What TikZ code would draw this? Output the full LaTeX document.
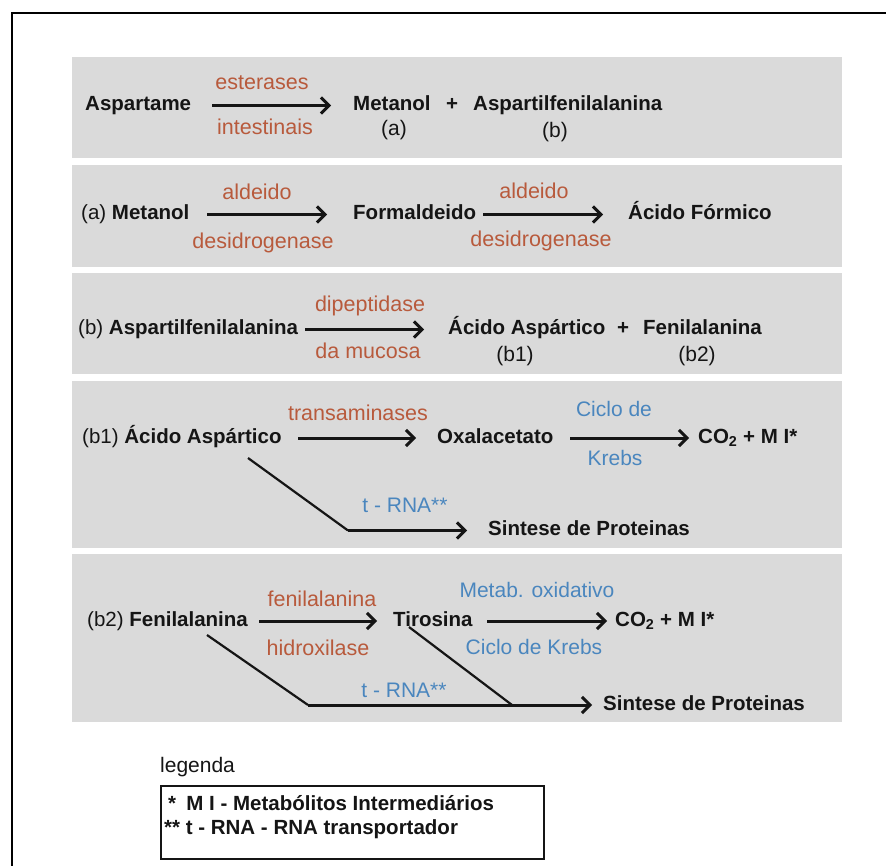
\documentclass[tikz,border=0pt]{standalone}
\usepackage{fontspec}
\setmainfont{Liberation Sans}
\usetikzlibrary{arrows.meta}
\definecolor{bandgray}{HTML}{DADADA}
\definecolor{enzred}{HTML}{B85A3C}
\definecolor{enzblue}{HTML}{4A86BE}
\definecolor{ink}{HTML}{151515}
\begin{document}
\begin{tikzpicture}[x=1pt,y=-1pt,
  bx/.style={font=\fontsize{20.5}{24}\selectfont\bfseries, text=ink, inner sep=0pt, text height=15pt, text depth=5pt, anchor=base west},
  pl/.style={bx, anchor=base},
  lbr/.style={font=\fontsize{21.5}{24}\selectfont, text=enzred, inner sep=0pt, anchor=base},
  lbb/.style={font=\fontsize{21}{24}\selectfont, text=enzblue, inner sep=0pt, anchor=base},
  tag/.style={font=\fontsize{21}{24}\selectfont, text=ink, inner sep=0pt, anchor=base},
  arr/.style={draw=ink, line width=3pt, -{Straight Barb[length=8pt,width=16pt]}},
  diag/.style={draw=ink, line width=2.2pt},
  band/.style={fill=bandgray, draw=none},
  leg/.style={font=\fontsize{20.5}{23}\selectfont\bfseries, text=ink, inner sep=0pt, anchor=base west}]
\useasboundingbox (0,0) rectangle (886,866);
\fill[white] (0,0) rectangle (886,866);
\draw[line width=2pt] (12,866) -- (12,13) -- (886,13);
% bands
\path[band] (72,57) rectangle (842,158);
\path[band] (72,165) rectangle (842,267);
\path[band] (72,273) rectangle (842,374);
\path[band] (72,381) rectangle (842,548);
\path[band] (72,554) rectangle (842,722);
% row 1
\node[bx] (asp) at (85,110.5) {Aspartame};
\node[bx] (met) at (353,110.5) {Metanol};
\node[pl] (p1) at (452,110.5) {+};
\node[bx] (aspf) at (473,110.5) {Aspartilfenilalanina};
\node[tag] (ta) at (394,136) {(a)};
\node[tag] (tb) at (555,138) {(b)};
\draw[arr] ([xshift=127pt]asp.west) -- ([xshift=-22pt]met.west);
\node[lbr] (e1) at (262,90) {esterases};
\node[lbr] (e2) at (265,135) {intestinais};
% row 2
\node[bx] (am) at (81,219.5) {\mdseries (a) \bfseries Metanol};
\node[bx] (form) at (353,219.5) {Formaldeido};
\node[bx] (acf) at (628,219.5) {Ácido Fórmico};
\draw[arr] ([xshift=126pt]am.west) -- ([xshift=-26pt]form.west);
\draw[arr] ([xshift=130pt]form.west) -- ([xshift=-25pt]acf.west);
\node[lbr] (e3) at (257,200) {aldeido};
\node[lbr] (e4) at (263,249) {desidrogenase};
\node[lbr] (e5) at (534,199) {aldeido};
\node[lbr] (e6) at (541,247) {desidrogenase};
% row 3
\node[bx] (basp) at (78,334.5) {\mdseries (b) \bfseries Aspartilfenilalanina};
\node[bx] (aasp) at (448,334.5) {Ácido Aspártico};
\node[pl] (p2) at (623,334.5) {+};
\node[bx] (fen) at (643,334.5) {Fenilalanina};
\node[tag] (tb1) at (515,362) {(b1)};
\node[tag] (tb2) at (697,362) {(b2)};
\draw[arr] ([xshift=227pt]basp.west) -- ([xshift=-24pt]aasp.west);
\node[lbr] (e7) at (370,312) {dipeptidase};
\node[lbr] (e8) at (368,359) {da mucosa};
% row 4
\node[bx] (b1) at (82,443) {\mdseries (b1) \bfseries Ácido Aspártico};
\node[bx] (oxa) at (437,443) {Oxalacetato};
\node[bx] (co2a) at (698,443) {CO\textsubscript{2} + M I*};
\draw[arr] ([xshift=216pt]b1.west) -- ([xshift=-21pt]oxa.west);
\draw[arr] ([xshift=133pt]oxa.west) -- ([xshift=-9pt]co2a.west);
\node[lbr] (e9) at (358,420) {transaminases};
\node[lbb] (k1) at (614,416.5) {Ciclo de};
\node[lbb] (k2) at (615,465.5) {Krebs};
\node[bx] (sp1) at (488,535.5) {Sintese de Proteinas};
\node[lbb] (r1) at (405,512.5) {t - RNA**};
\coordinate (d1s) at (248,458);
\coordinate (d1b) at (348,530.5);
\draw[diag] (d1s) -- (d1b);
\draw[arr] (d1b) -- ([xshift=-21pt]sp1.west);
% row 5
\node[bx] (b2) at (87,626) {\mdseries (b2) \bfseries Fenilalanina};
\node[bx] (tir) at (393,626) {Tirosina};
\node[bx] (co2b) at (615,626) {CO\textsubscript{2} + M I*};
\draw[arr] ([xshift=172pt]b2.west) -- ([xshift=-16pt]tir.west);
\draw[arr] ([xshift=94pt]tir.west) -- ([xshift=-8pt]co2b.west);
\node[lbr] (e10) at (322,606.5) {fenilalanina};
\node[lbr] (e11) at (318,655.5) {hidroxilase};
\node[lbb] (m1) at (537,597.5) {Metab. oxidativo};
\node[lbb] (m2) at (534,654.5) {Ciclo de Krebs};
\node[bx] (sp2) at (603,710) {Sintese de Proteinas};
\node[lbb] (r2) at (404,697) {t - RNA**};
\coordinate (d2s) at (207,635);
\coordinate (d2b) at (308,705);
\coordinate (d3s) at (409,627);
\coordinate (d3j) at (512,705);
\draw[diag] (d2s) -- (d2b);
\draw[diag] (d3s) -- (d3j);
\draw[arr] (d2b) -- ([xshift=-11pt]sp2.west);
% legend
\node[tag, anchor=base west] (lg) at (160,772.5) {legenda};
\node[draw=ink, line width=1.6pt, fill=white, minimum width=383pt, minimum height=73pt, inner sep=0pt, anchor=north west] (box) at (160,785) {};
\node[leg] (l1) at (168,810) {*\hspace{0.5em}M I - Metabólitos Intermediários};
\node[leg] (l2) at (164,834) {** t - RNA - RNA transportador};
\end{tikzpicture}
\end{document}
